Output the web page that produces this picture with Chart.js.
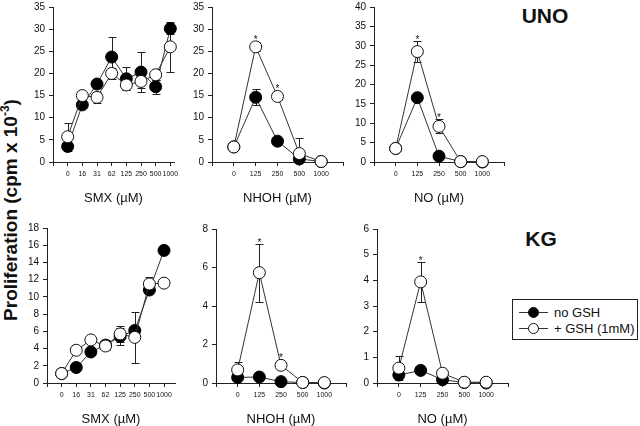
<!DOCTYPE html>
<html>
<head>
<meta charset="utf-8">
<script src="https://cdn.jsdelivr.net/npm/chart.js@4.4.0/dist/chart.umd.min.js"></script>
<style>
body { margin:0; width:640px; height:426px; background:#fff; position:relative; overflow:hidden; font-family: Arial, "Liberation Sans", sans-serif; color:#111; }
canvas { position:absolute; }
#ytitle { position:absolute; left:10px; top:210px; transform:translate(-50%,-50%) rotate(-90deg); white-space:nowrap; font-weight:bold; font-size:19px; }
#ytitle sup { font-size:12px; }
.group { position:absolute; font-weight:bold; font-size:21px; transform:translate(-50%,-50%); }
#legend { position:absolute; left:512px; top:299px; width:126px; height:41px; border:1px solid #222; box-sizing:border-box; }
.lg-line { position:absolute; left:6px; width:29px; height:1px; background:#333; }
.lg-dot { position:absolute; left:15px; width:11px; height:11px; border-radius:50%; border:1px solid #111; box-sizing:border-box; }
.lg-text { position:absolute; left:41px; font-size:13px; line-height:15px; }
</style>
</head>
<body>
<div id="ytitle">Proliferation (cpm x 10<sup>-3</sup>)</div>
<div class="group" style="left:545px; top:16px;">UNO</div>
<div class="group" style="left:541px; top:239px;">KG</div>
<div id="legend">
  <div class="lg-line" style="top:12px"></div>
  <div class="lg-dot" style="top:7px; background:#000"></div>
  <div class="lg-text" style="top:5px">no GSH</div>
  <div class="lg-line" style="top:28px"></div>
  <div class="lg-dot" style="top:23px; background:#fff"></div>
  <div class="lg-text" style="top:21px">+ GSH (1mM)</div>
</div>
<script>
const smxDoses = ["0", "16", "31", "62", "125", "250", "500", "1000"];
const metDoses = ["0", "125", "250", "500", "1000"];

// UNO
const smxUnoNoGsh = [3.5, 12.9, 17.6, 23.7, 18.8, 20.3, 17.0, 30.1];
const smxUnoNoGshSd = [0.5, 0.8, 0.8, 4.5, 2.6, 4.5, 1.6, 1.2];
const smxUnoGsh = [5.7, 15.0, 14.6, 20.0, 17.4, 18.2, 19.7, 26.0];
const smxUnoGshSd = [3.2, 0.8, 1.3, 1.2, 1.0, 1.5, 1.2, 5.6];

const nhohUnoNoGsh = [3.4, 14.6, 4.7, 0.7, 0.1];
const nhohUnoNoGshSd = [0.3, 1.8, 0.4, 0.3, 0];
const nhohUnoGsh = [3.4, 26.0, 14.8, 1.9, 0.1];
const nhohUnoGshSd = [0.4, 1.0, 0.8, 3.5, 0];
const nhohUnoStars = [1, 2];

const noUnoNoGsh = [3.5, 16.6, 1.5, 0.1, 0];
const noUnoNoGshSd = [0.3, 0.5, 0.6, 0, 0];
const noUnoGsh = [3.5, 28.5, 9.2, 0.1, 0.1];
const noUnoGshSd = [0.4, 2.7, 1.8, 0, 0];
const noUnoStars = [1, 2];

// KG
const smxKgNoGsh = [1.1, 1.8, 3.6, 4.4, 5.4, 6.1, 10.8, 15.4];
const smxKgNoGshSd = [0.1, 0.2, 0.3, 0.6, 1.0, 0.3, 0.4, 0.2];
const smxKgGsh = [1.1, 3.8, 5.0, 4.3, 5.7, 5.3, 11.5, 11.6];
const smxKgGshSd = [0.1, 0.3, 0.3, 0.3, 0.9, 3.0, 0.8, 0.3];

const nhohKgNoGsh = [0.29, 0.31, 0.07, 0.02, 0.0];
const nhohKgNoGshSd = [0.08, 0.05, 0.03, 0, 0];
const nhohKgGsh = [0.68, 5.73, 0.92, 0.03, 0.02];
const nhohKgGshSd = [0.43, 1.5, 0.1, 0, 0];
const nhohKgStars = [1, 2];

const noKgNoGsh = [0.31, 0.49, 0.13, 0.02, 0.0];
const noKgNoGshSd = [0.13, 0.05, 0.1, 0, 0];
const noKgGsh = [0.58, 3.94, 0.38, 0.03, 0.03];
const noKgGshSd = [0.48, 0.77, 0.05, 0, 0];
const noKgStars = [1];

Chart.defaults.font.family = "Arial, 'Liberation Sans', sans-serif";
Chart.defaults.color = "#111";

const errorBars = {
    id: "errorBars",
    beforeDatasetsDraw(chart) {
        let ctx = chart.ctx;
        let xs = chart.scales.x, ys = chart.scales.y;
        ctx.save();
        ctx.strokeStyle = "#222";
        ctx.lineWidth = 1;
        chart.data.datasets.forEach(function (ds) {
            ds.sd.forEach(function (sd, i) {
                if (!sd) return;
                let px = Math.round(xs.getPixelForValue(i)) + 0.5;
                let top = Math.round(ys.getPixelForValue(ds.means[i] + sd)) + 0.5;
                let bot = Math.round(ys.getPixelForValue(Math.max(ds.means[i] - sd, 0))) + 0.5;
                ctx.beginPath();
                ctx.moveTo(px, top); ctx.lineTo(px, bot);
                ctx.moveTo(px - 4, top); ctx.lineTo(px + 4, top);
                ctx.moveTo(px - 4, bot); ctx.lineTo(px + 4, bot);
                ctx.stroke();
            });
        });
        ctx.restore();
    },
    afterDatasetsDraw(chart, args, opts) {
        let ctx = chart.ctx;
        let xs = chart.scales.x, ys = chart.scales.y;
        let ds = chart.data.datasets[0];
        ctx.save();
        ctx.fillStyle = "#111";
        ctx.font = "10px Arial, 'Liberation Sans', sans-serif";
        ctx.textAlign = "center";
        ctx.textBaseline = "alphabetic";
        (opts.stars || []).forEach(function (i) {
            let px = xs.getPixelForValue(i);
            let y = Math.min(ys.getPixelForValue(ds.means[i] + ds.sd[i]), ys.getPixelForValue(ds.means[i]) - 6);
            ctx.fillText("*", px, y + 2);
        });
        ctx.restore();
    }
};

function makePanel(box, doses, xMax, yMax, yStep, noGsh, noGshSd, gsh, gshSd, stars, title) {
    const YW = 34, XH = 48, PT = 8, PR = 12;
    let cv = document.createElement("canvas");
    cv.width = box.r - box.l + YW + PR;
    cv.height = box.b - box.t + PT + XH;
    cv.style.left = (box.l - YW) + "px";
    cv.style.top = (box.t - PT) + "px";
    document.body.appendChild(cv);

    new Chart(cv, {
        type: "line",
        data: {
            datasets: [{
                label: "+ GSH (1mM)",
                data: gsh.map(function (v, i) { return {x: i, y: v}; }),
                means: gsh,
                sd: gshSd,
                order: 1,
                borderColor: "#333",
                borderWidth: 1,
                pointRadius: 6,
                pointBorderWidth: 1,
                pointBackgroundColor: "#fff",
                pointBorderColor: "#111",
                tension: 0,
                clip: false
            }, {
                label: "no GSH",
                data: noGsh.map(function (v, i) { return {x: i, y: v}; }),
                means: noGsh,
                sd: noGshSd,
                order: 2,
                borderColor: "#333",
                borderWidth: 1,
                pointRadius: 6,
                pointBorderWidth: 1,
                pointBackgroundColor: "#000",
                pointBorderColor: "#000",
                tension: 0,
                clip: false
            }]
        },
        options: {
            responsive: false,
            animation: false,
            events: [],
            layout: {padding: {top: PT, right: PR, left: 0, bottom: 0}},
            plugins: {
                legend: {display: false},
                tooltip: {enabled: false},
                errorBars: {stars: stars}
            },
            scales: {
                x: {
                    type: "linear",
                    min: -1,
                    max: xMax,
                    afterFit: function (s) { s.height = XH; },
                    border: {display: true, color: "#222", width: 1},
                    grid: {drawOnChartArea: false, drawTicks: true, tickLength: 4, color: "#222"},
                    ticks: {
                        stepSize: 1,
                        includeBounds: false,
                        autoSkip: false,
                        maxRotation: 0,
                        minRotation: 0,
                        padding: 4,
                        font: {size: 7},
                        callback: function (value) {
                            return (Number.isInteger(value) && value >= 0 && value < doses.length) ? doses[value] : "";
                        }
                    },
                    title: {display: true, text: title, font: {size: 13}, color: "#111", padding: {top: 0, bottom: 4}}
                },
                y: {
                    min: 0,
                    max: yMax,
                    afterFit: function (s) { s.width = YW; },
                    border: {display: true, color: "#222", width: 1},
                    grid: {drawOnChartArea: false, drawTicks: true, tickLength: 4, color: "#222"},
                    ticks: {stepSize: yStep, padding: 4, font: {size: 10}}
                }
            }
        },
        plugins: [errorBars]
    });
}

makePanel({l: 53, r: 174, t: 5, b: 162}, smxDoses, 7.25, 35, 5, smxUnoNoGsh, smxUnoNoGshSd, smxUnoGsh, smxUnoGshSd, [], "SMX (\u00b5M)");
makePanel({l: 212, r: 343, t: 5, b: 162}, metDoses, 5, 35, 5, nhohUnoNoGsh, nhohUnoNoGshSd, nhohUnoGsh, nhohUnoGshSd, nhohUnoStars, "NHOH (\u00b5M)");
makePanel({l: 374, r: 504, t: 5, b: 162}, metDoses, 5, 40, 5, noUnoNoGsh, noUnoNoGshSd, noUnoGsh, noUnoGshSd, noUnoStars, "NO (\u00b5M)");
makePanel({l: 47, r: 175, t: 226, b: 383}, smxDoses, 7.75, 18, 2, smxKgNoGsh, smxKgNoGshSd, smxKgGsh, smxKgGshSd, [], "SMX (\u00b5M)");
makePanel({l: 216, r: 346, t: 227, b: 383}, metDoses, 5, 8, 2, nhohKgNoGsh, nhohKgNoGshSd, nhohKgGsh, nhohKgGshSd, nhohKgStars, "NHOH (\u00b5M)");
makePanel({l: 377, r: 508, t: 227, b: 383}, metDoses, 5, 6, 1, noKgNoGsh, noKgNoGshSd, noKgGsh, noKgGshSd, noKgStars, "NO (\u00b5M)");
</script>
</body>
</html>
